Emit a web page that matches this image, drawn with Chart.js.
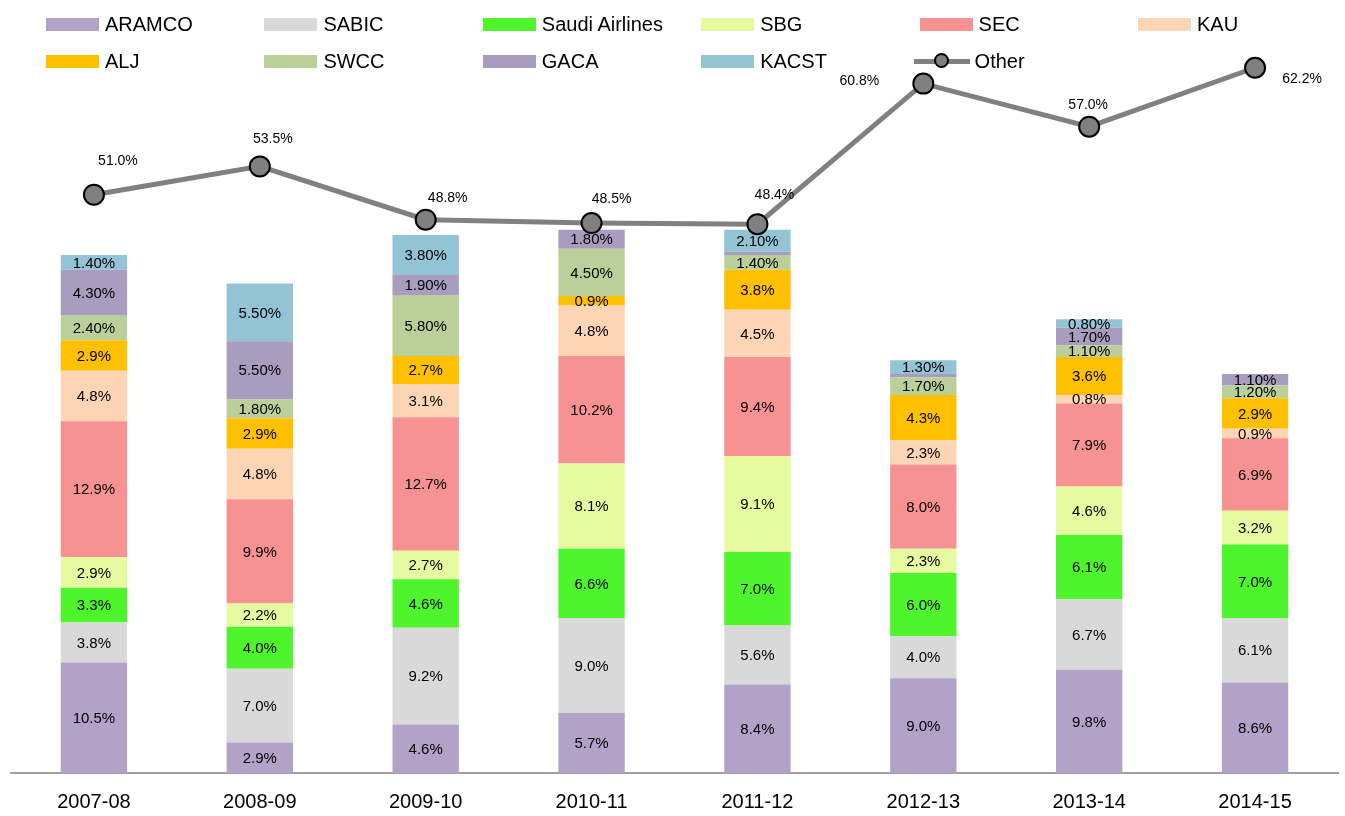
<!DOCTYPE html>
<html>
<head>
<meta charset="utf-8">
<script src="https://cdn.jsdelivr.net/npm/chart.js@4.4.1/dist/chart.umd.min.js"></script>
<style>
  html, body { margin: 0; padding: 0; background: #fff; overflow: hidden; }
  #wrap { position: relative; width: 1345px; height: 816px; overflow: hidden; font-family: "Liberation Sans", Arial, sans-serif; }
  #chart { position: absolute; left: -1px; top: 0; }
  .leg { position: absolute; height: 26px; display: flex; align-items: center; font-size: 20px; color: #000; white-space: nowrap; }
  .leg .sw { width: 53px; height: 13px; margin-right: 6px; }
  .leg .ln { position: relative; width: 56px; height: 5px; background: #808080; margin-right: 5px; }
  .leg .ln span { position: absolute; left: 21px; top: -5px; width: 11px; height: 11px; border-radius: 50%; background: #808080; border: 2px solid #000; box-sizing: content-box; transform: translate(-1px,-1px); }
</style>
</head>
<body>
<div id="wrap">
  <canvas id="chart" width="1351" height="834"></canvas>
  <div id="legend"></div>
</div>
<script>
// chart data
const years = ['2007-08', '2008-09', '2009-10', '2010-11', '2011-12', '2012-13', '2013-14', '2014-15'];

const aramco  = [10.5, 2.9, 4.6, 5.7, 8.4, 9.0, 9.8, 8.6];
const sabic   = [3.8, 7.0, 9.2, 9.0, 5.6, 4.0, 6.7, 6.1];
const saudiAirlines = [3.3, 4.0, 4.6, 6.6, 7.0, 6.0, 6.1, 7.0];
const sbg     = [2.9, 2.2, 2.7, 8.1, 9.1, 2.3, 4.6, 3.2];
const sec     = [12.9, 9.9, 12.7, 10.2, 9.4, 8.0, 7.9, 6.9];
const kau     = [4.8, 4.8, 3.1, 4.8, 4.5, 2.3, 0.8, 0.9];
const alj     = [2.9, 2.9, 2.7, 0.9, 3.8, 4.3, 3.6, 2.9];
const swcc    = [2.4, 1.8, 5.8, 4.5, 1.4, 1.7, 1.1, 1.2];
const gaca    = [4.3, 5.5, 1.9, 1.8, 0.3, 0.3, 1.7, 1.1];
const kacst   = [1.4, 5.5, 3.8, 0, 2.1, 1.3, 0.8, 0];
const other   = [51.0, 53.5, 48.8, 48.5, 48.4, 60.8, 57.0, 62.2];

const barSeries = [
  { name: 'ARAMCO', data: aramco, color: '#B3A2C7', dec: 1 },
  { name: 'SABIC', data: sabic, color: '#D9D9D9', dec: 1 },
  { name: 'Saudi Airlines', data: saudiAirlines, color: '#4EF52C', dec: 1 },
  { name: 'SBG', data: sbg, color: '#E6FB9F', dec: 1 },
  { name: 'SEC', data: sec, color: '#F79292', dec: 1 },
  { name: 'KAU', data: kau, color: '#FCD5B5', dec: 1 },
  { name: 'ALJ', data: alj, color: '#FFC000', dec: 1 },
  { name: 'SWCC', data: swcc, color: '#BACF99', dec: 2 },
  { name: 'GACA', data: gaca, color: '#A89CBF', dec: 2 },
  { name: 'KACST', data: kacst, color: '#93C4D6', dec: 2 }
];

// where each "Other" label sits relative to its point
const otherLabelOffsets = [[24, -34], [13, -27], [22, -22], [20, -24], [17, -29], [-64, -2], [-1, -22], [47, 11]];

const datasets = barSeries.map(s => ({
  type: 'bar',
  label: s.name,
  data: s.data,
  backgroundColor: s.color,
  borderWidth: 0,
  stack: 'a',
  yAxisID: 'y',
  order: 1,
  barPercentage: 0.4,
  categoryPercentage: 1.0,
  dec: s.dec
}));

datasets.push({
  type: 'line',
  label: 'Other',
  data: other,
  yAxisID: 'y1',
  borderColor: '#808080',
  borderWidth: 5,
  pointRadius: 10,
  pointBackgroundColor: '#808080',
  pointBorderColor: '#000',
  pointBorderWidth: 2,
  tension: 0,
  clip: false,
  order: 0
});

// draws the value labels
const labelPlugin = {
  id: 'valueLabels',
  afterDatasetsDraw(chart) {
    const ctx = chart.ctx;
    ctx.save();
    ctx.fillStyle = '#000';
    ctx.textAlign = 'center';
    ctx.textBaseline = 'middle';
    chart.data.datasets.forEach((ds, i) => {
      const meta = chart.getDatasetMeta(i);
      if (ds.type === 'bar') {
        ctx.font = '15px "Liberation Sans", Arial, sans-serif';
        meta.data.forEach((el, j) => {
          const v = ds.data[j];
          if (v < 0.5) return;
          ctx.fillText(v.toFixed(ds.dec) + '%', el.x, (el.y + el.base) / 2 + 1);
        });
      } else {
        ctx.font = '14px "Liberation Sans", Arial, sans-serif';
        meta.data.forEach((el, j) => {
          const off = otherLabelOffsets[j];
          ctx.fillText(ds.data[j].toFixed(1) + '%', el.x + off[0], el.y + off[1]);
        });
      }
    });
    ctx.restore();
  }
};

new Chart(document.getElementById('chart'), {
  data: { labels: years, datasets: datasets },
  options: {
    responsive: false,
    animation: false,
    layout: { padding: { top: 36, left: 10, right: 3, bottom: 3 } },
    plugins: {
      legend: { display: false },
      tooltip: { enabled: false }
    },
    scales: {
      x: {
        stacked: true,
        grid: { display: false, drawTicks: false },
        border: { display: true, color: '#A0A0A0', width: 2 },
        ticks: {
          color: '#000',
          padding: 17,
          font: { size: 20, family: '"Liberation Sans", Arial, sans-serif' }
        }
      },
      y: { stacked: true, display: false, min: 0, max: 70 },
      y1: { display: false, min: 0, max: 65 }
    }
  },
  plugins: [labelPlugin]
});

// legend, 6 columns by 2 rows
const legendItems = barSeries.map(s => ({ name: s.name, color: s.color })).concat([{ name: 'Other', line: true }]);
const order = ['ARAMCO', 'SABIC', 'Saudi Airlines', 'SBG', 'SEC', 'KAU', 'ALJ', 'SWCC', 'GACA', 'KACST', 'Other'];
const legend = document.getElementById('legend');
order.forEach((name, k) => {
  const item = legendItems.find(it => it.name === name);
  const col = k % 6, row = Math.floor(k / 6);
  const div = document.createElement('div');
  div.className = 'leg';
  div.style.left = (46 + col * 218.4 - (item.line ? 6 : 0)) + 'px';
  div.style.top = (11 + row * 37) + 'px';
  if (item.line) {
    div.innerHTML = '<div class="ln"><span></span></div>' + name;
  } else {
    div.innerHTML = '<div class="sw" style="background:' + item.color + '"></div>' + name;
  }
  legend.appendChild(div);
});
</script>
</body>
</html>
